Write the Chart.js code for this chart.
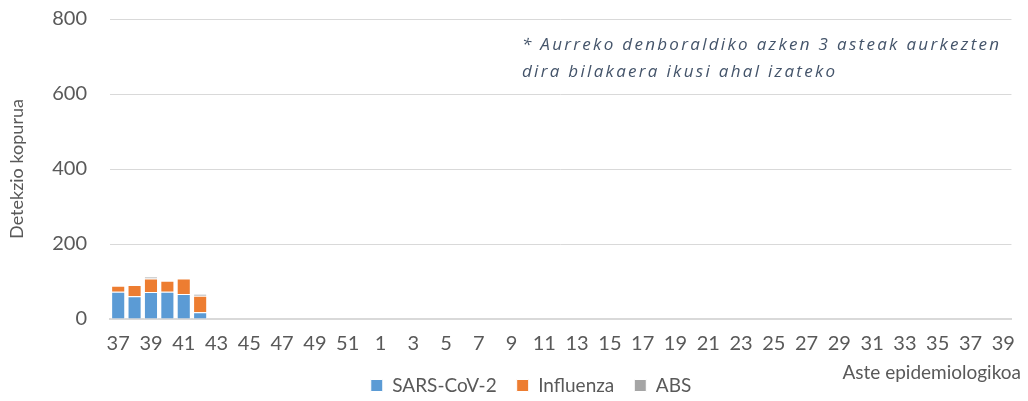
<!DOCTYPE html>
<html>
<head>
<meta charset="utf-8">
<script src="https://cdn.jsdelivr.net/npm/chart.js@4"></script>
<style>
  html, body { margin: 0; padding: 0; background: #fff; }
  #wrap { width: 1028px; height: 401px; }
</style>
</head>
<body>
<div id="wrap"><canvas id="myChart" width="1028" height="401"></canvas></div>
<script>
// astea (37-52, 1-39)
const asteak = ["37","38","39","40","41","42","43","44","45","46","47","48","49","50","51","52",
  "1","2","3","4","5","6","7","8","9","10","11","12","13","14","15","16","17","18","19","20",
  "21","22","23","24","25","26","27","28","29","30","31","32","33","34","35","36","37","38","39"];

const sarsCov2 = [73, 61, 72, 73, 67, 18, null, null, null, null, null, null, null, null, null, null,
  null, null, null, null, null, null, null, null, null, null, null, null, null, null, null, null, null, null, null, null,
  null, null, null, null, null, null, null, null, null, null, null, null, null, null, null, null, null, null, null];
const influenza = [16, 30, 36, 29, 41, 44, null, null, null, null, null, null, null, null, null, null,
  null, null, null, null, null, null, null, null, null, null, null, null, null, null, null, null, null, null, null, null,
  null, null, null, null, null, null, null, null, null, null, null, null, null, null, null, null, null, null, null];
const abs = [0, 0, 5, 0, 0, 5, null, null, null, null, null, null, null, null, null, null,
  null, null, null, null, null, null, null, null, null, null, null, null, null, null, null, null, null, null, null, null,
  null, null, null, null, null, null, null, null, null, null, null, null, null, null, null, null, null, null, null];

const yTicks = [0, 200, 400, 600, 800];

const oharra = ["* Aurreko denboraldiko azken 3 asteak aurkezten", "dira bilakaera ikusi ahal izateko"];

const letra = "Lato, 'Liberation Sans', sans-serif";
const grisa = "#595959";

// testu gehigarriak + legenda pixka bat eskuinera
const testuak = {
  id: "testuak",
  afterLayout(chart) {
    chart.legend.left += 24;
    chart.legend.right += 24;
  },
  afterDraw(chart) {
    const c = chart.ctx;
    c.save();
    c.fillStyle = "#44546a";
    c.font = "italic 17px 'Open Sans', sans-serif";
    c.textBaseline = "middle";
    c.textAlign = "left";
    if ("letterSpacing" in c) c.letterSpacing = "2.3px";
    c.fillText(oharra[0], 522, 45);
    c.fillText(oharra[1], 522, 72);
    if ("letterSpacing" in c) c.letterSpacing = "0px";
    c.fillStyle = grisa;
    c.font = "19px " + letra;
    c.textAlign = "right";
    c.fillText("Aste epidemiologikoa", 1021, 373);
    c.restore();
  }
};

new Chart(document.getElementById("myChart"), {
  type: "bar",
  data: {
    labels: asteak,
    datasets: [
      { label: "SARS-CoV-2", data: sarsCov2, backgroundColor: "#5b9bd5", borderColor: "#ffffff", borderWidth: 1 },
      { label: "Influenza", data: influenza, backgroundColor: "#ed7d31", borderColor: "#ffffff", borderWidth: 1 },
      { label: "ABS", data: abs, backgroundColor: "#a5a5a5", borderColor: "#ffffff", borderWidth: 1 }
    ]
  },
  options: {
    responsive: false,
    animation: false,
    layout: { padding: { top: 19, right: 14, bottom: -4, left: 0 } },
    datasets: { bar: { categoryPercentage: 1, barPercentage: 0.86 } },
    plugins: {
      tooltip: { enabled: false },
      legend: {
        position: "bottom",
        labels: { font: { size: 19, family: letra }, color: grisa, boxWidth: 12, boxHeight: 12, padding: 20 }
      }
    },
    scales: {
      x: {
        stacked: true,
        grid: { display: false, drawTicks: false },
        border: { color: "#d9d9d9", width: 2 },
        ticks: {
          autoSkip: false, maxRotation: 0, color: grisa, padding: 13,
          font: { size: 20, family: letra },
          callback: function (v, i) { return i % 2 === 0 ? asteak[i] : ""; }
        },
        afterFit: (s) => { s.height = 37; }
      },
      y: {
        stacked: true,
        min: 0, max: 800,
        afterBuildTicks: (s) => { s.ticks = yTicks.map((v) => ({ value: v })); },
        grid: { color: "#d9d9d9", drawTicks: false },
        border: { display: false },
        ticks: { color: grisa, padding: 23, font: { size: 20, family: letra } },
        title: { display: true, text: "Detekzio kopurua", color: grisa, font: { size: 18, family: letra }, padding: { top: 6, bottom: 0 } },
        afterFit: (s) => { s.width = 110; s.paddingTop = 0; s.paddingBottom = 0; }
      }
    }
  },
  plugins: [testuak]
});
</script>
</body>
</html>
